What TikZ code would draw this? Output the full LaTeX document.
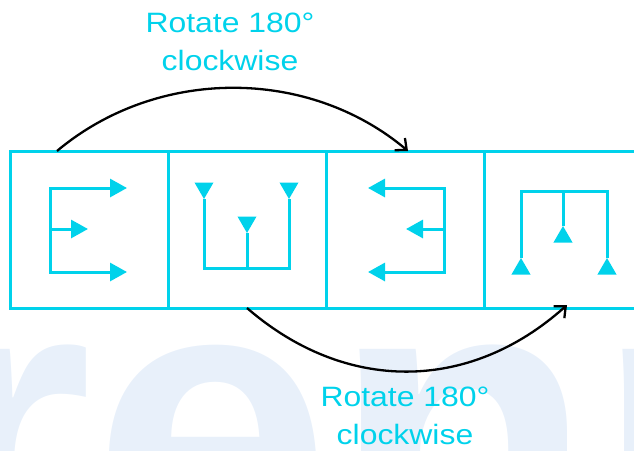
\documentclass[tikz,border=0pt]{standalone}
\usepackage{fontspec}
\setmainfont{Liberation Sans}
\usetikzlibrary{positioning,arrows.meta,shapes.geometric}
\definecolor{figcyan}{RGB}{0,210,235}
\definecolor{wmblue}{RGB}{232,240,250}

\begin{document}
\begin{tikzpicture}[x=1pt,y=-1pt,
  panel/.style={draw=figcyan, line width=3pt, minimum width=158pt, minimum height=157pt, inner sep=0pt, outer sep=0pt},
  cy/.style={draw=figcyan, line width=3pt},
  arr/.style={cy, >={Triangle[length=17pt,width=18pt]}},
  tridown/.style={regular polygon, regular polygon sides=3, shape border rotate=180, fill=figcyan, minimum size=22pt, inner sep=0pt},
  triup/.style={regular polygon, regular polygon sides=3, fill=figcyan, minimum size=22pt, inner sep=0pt},
  lbl/.style={text=figcyan, font=\fontsize{28}{37.5}\selectfont, align=center, inner sep=0pt, xscale=1.14},
  turn/.style={draw=black, line width=2.3pt, -{Straight Barb[length=9pt,width=16pt]}}]
\useasboundingbox (0,0) rectangle (634,450);
\begin{scope}
\clip (0,0) rectangle (634,450);
\node[anchor=base west, text=wmblue, font=\fontsize{430}{430}\selectfont\bfseries, inner sep=0pt] (wm) at (-75,576) {renn};
\end{scope}
\node[panel] (p1) at (89,229.5) {};
\node[panel, right=0pt of p1] (p2) {};
\node[panel, right=0pt of p2] (p3) {};
\node[panel, right=0pt of p3] (p4) {};
\coordinate (e1) at (50,188);
\coordinate (e2) at (50,229);
\coordinate (e3) at (50,272);
\coordinate (e1t) at (127,188);
\coordinate (e2t) at (88,229);
\coordinate (e3t) at (127,272);
\draw[arr, <->] (e1t) -- (e1) -- (e3) -- (e3t);
\draw[arr, ->] (e2) -- (e2t);
\node[tridown] (a1) at (204,188) {};
\node[tridown] (a2) at (247,222) {};
\node[tridown] (a3) at (289,188) {};
\coordinate (b1) at (204,268);
\coordinate (b2) at (247,268);
\coordinate (b3) at (289,268);
\draw[cy] (a1) -- (b1) -- (b3) -- (a3);
\draw[cy] (a2) -- (b2);
\coordinate (f1) at (444,188);
\coordinate (f2) at (444,229);
\coordinate (f3) at (444,272);
\coordinate (f1t) at (368,188);
\coordinate (f2t) at (406,229);
\coordinate (f3t) at (368,272);
\draw[arr, <->] (f1t) -- (f1) -- (f3) -- (f3t);
\draw[arr, ->] (f2) -- (f2t);
\node[triup] (c1) at (521,269) {};
\node[triup] (c2) at (563,237) {};
\node[triup] (c3) at (607,269) {};
\coordinate (d1) at (521,191);
\coordinate (d2) at (563,191);
\coordinate (d3) at (607,191);
\draw[cy] (c1) -- (d1) -- (d3) -- (c3);
\draw[cy] (d2) -- (c2);
\coordinate (s1) at (57,151);
\coordinate (t1) at (408,151);
\coordinate (s2) at (247,308);
\coordinate (t2) at (567,305);
\draw[turn] (s1) .. controls (157,67) and (308,67) .. (t1);
\draw[turn] (s2) .. controls (345,393) and (469,393) .. (t2);
\node[lbl] (l1) at (230,42) {Rotate 180°\\clockwise};
\node[lbl] (l2) at (405,416) {Rotate 180°\\clockwise};
\end{tikzpicture}
\end{document}
